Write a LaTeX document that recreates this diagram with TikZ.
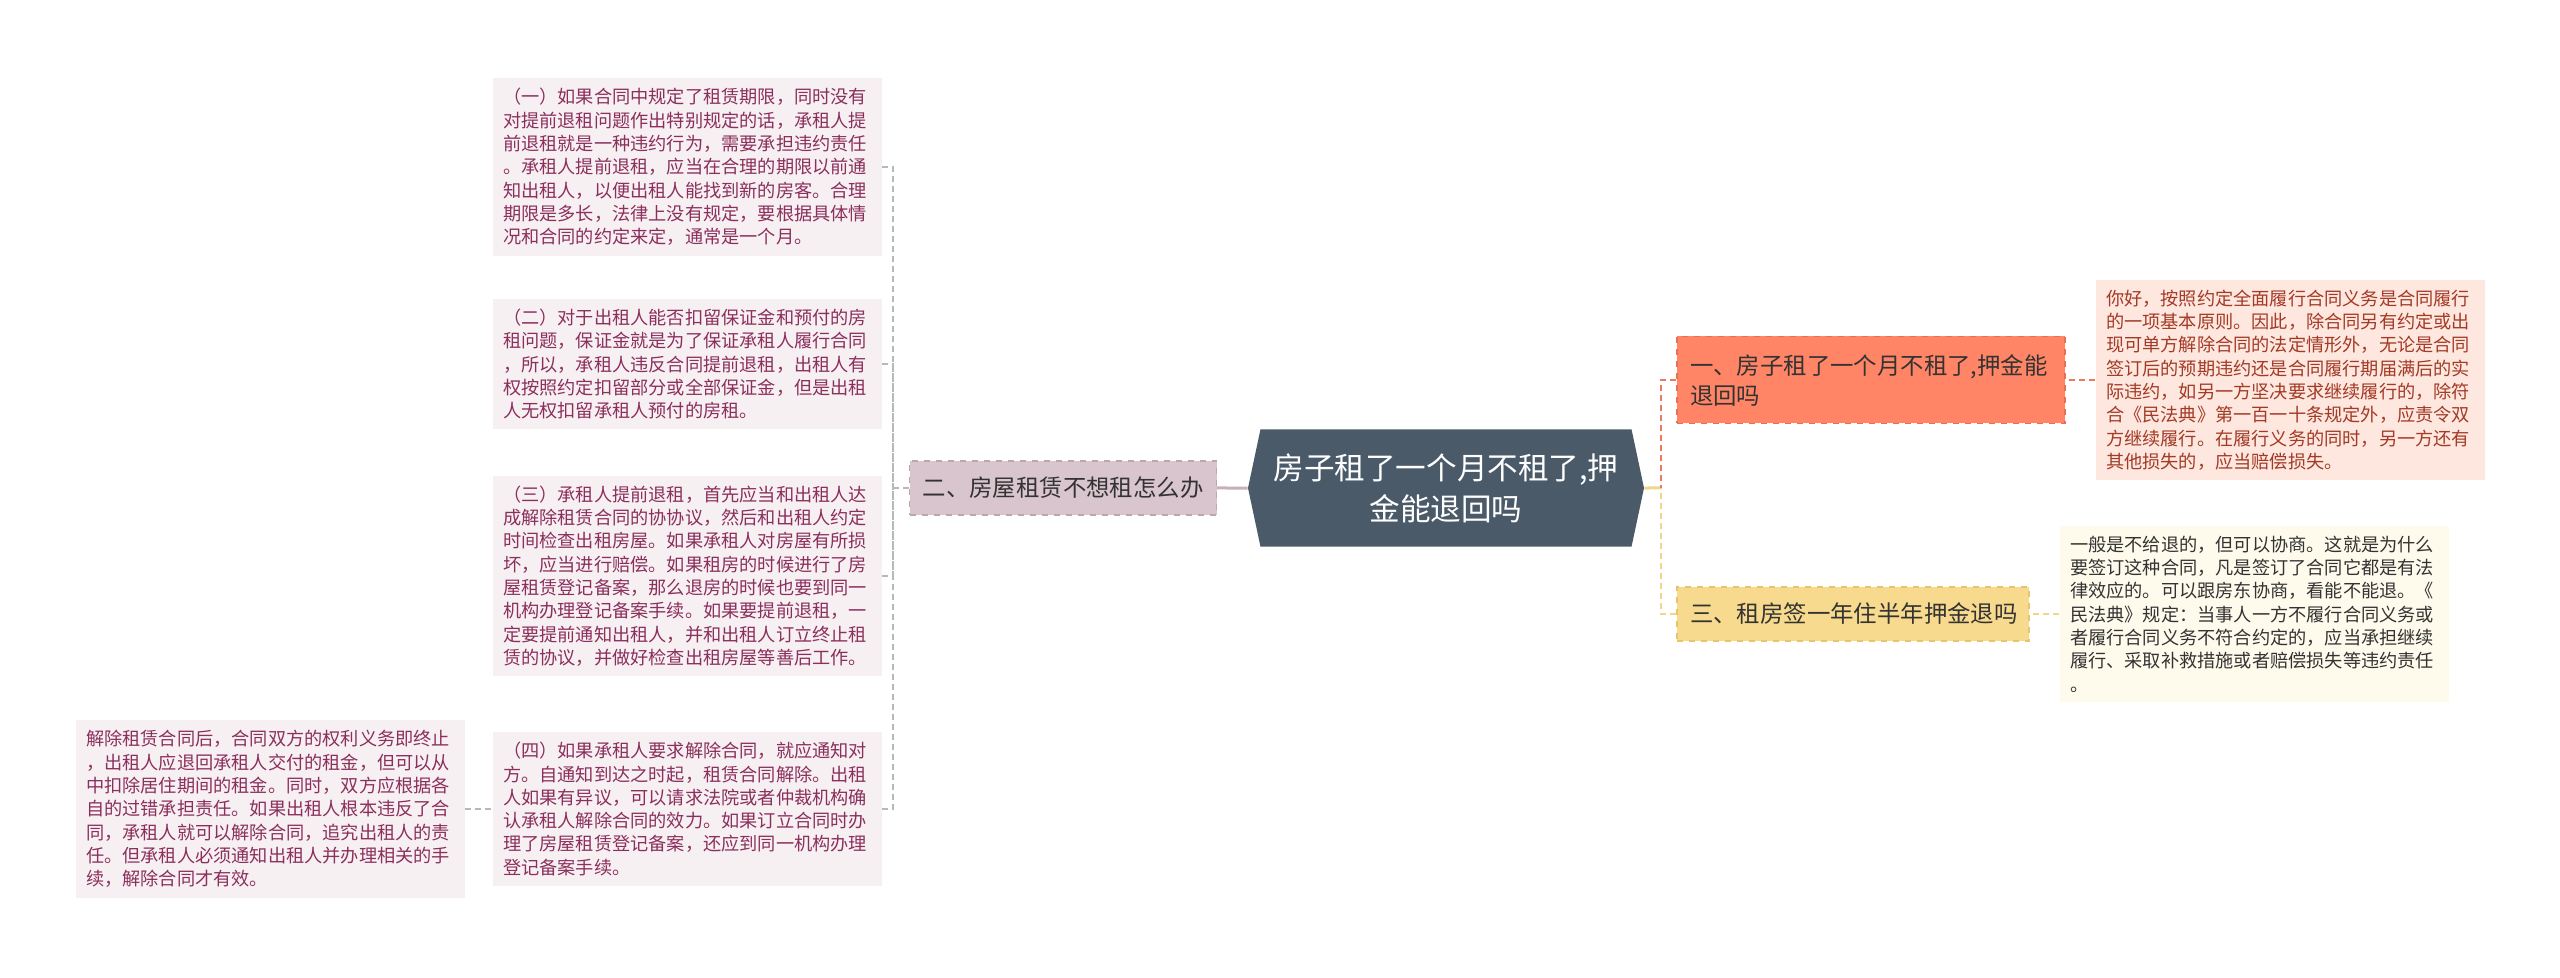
\documentclass[tikz,border=0pt]{standalone}
\usepackage{fontspec}
\setmainfont{Noto Sans CJK SC}
\usetikzlibrary{shapes.symbols}
\definecolor{ltfill}{HTML}{F7F0F3}
\definecolor{lttext}{HTML}{8B2F5C}
\definecolor{lbfill}{HTML}{D9C5CD}
\definecolor{lbdraw}{HTML}{BCA6B0}
\definecolor{rootfill}{HTML}{4B5A69}
\definecolor{obfill}{HTML}{FF8566}
\definecolor{obdraw}{HTML}{E86F52}
\definecolor{otfill}{HTML}{FDE7DF}
\definecolor{ottext}{HTML}{A33A26}
\definecolor{ybfill}{HTML}{F7DA8D}
\definecolor{ybdraw}{HTML}{E8C56A}
\definecolor{ytfill}{HTML}{FEFAEC}
\definecolor{dtext}{HTML}{333333}
\definecolor{lgrey}{HTML}{B8B8B8}
\definecolor{oline}{HTML}{EB7A5F}
\definecolor{yline}{HTML}{F0D68A}
\definecolor{pline}{HTML}{C8B0BA}

\begin{document}
\begin{tikzpicture}
	[x=0.5pt,y=-0.5pt,
	 txt/.style={text width=184pt,align=left,inner xsep=5.25pt,inner ysep=5pt,font=\fontsize{9.1pt}{11.65pt}\selectfont},
	 lt/.style={txt,fill=ltfill,text=lttext},
	 ot/.style={txt,fill=otfill,text=ottext},
	 yt/.style={txt,fill=ytfill,text=dtext},
	 br/.style={align=left,inner xsep=6.5pt,dashed,line width=0.6pt,text=dtext,font=\fontsize{11.7pt}{15pt}\selectfont},
	 root/.style={shape=signal,signal to=west and east,signal pointer angle=156,fill=rootfill,text=white,align=center,
	   minimum width=198pt,minimum height=58.5pt,inner sep=0pt,font=\fontsize{15.3pt}{20.4pt}\selectfont},
	 dl/.style={dash pattern=on 3pt off 2pt,line width=0.7pt},
	 gl/.style={dl,draw=lgrey},
	 ol/.style={dl,draw=oline,line width=0.9pt},
	 yl/.style={dl,draw=yline,line width=0.9pt},
	 elb/.style={to path={-| (\tikztotarget)}}]

	\useasboundingbox (0,0) rectangle (2560,978);

	\coordinate (jl) at (893,488);
	\coordinate (jr) at (1661,488);

	\node[root] (r) at (1446,488) {房子租了一个月不租了,押\\金能退回吗}
		edge [-,draw=yline,line width=1.5pt]	(jr)
	;

	\node[br,fill=lbfill,draw=lbdraw,minimum width=153.5pt,minimum height=27pt] (l) at (1063,488) {二、房屋租赁不想租怎么办}
		edge [-,draw=pline,line width=1.5pt]	(r)
		edge [gl]	(jl)
	;

	\node[lt] (b1) at (687,167) {（一）如果合同中规定了租赁期限，同时没有\\对提前退租问题作出特别规定的话，承租人提\\前退租就是一种违约行为，需要承担违约责任\\。承租人提前退租，应当在合理的期限以前通\\知出租人，以便出租人能找到新的房客。合理\\期限是多长，法律上没有规定，要根据具体情\\况和合同的约定来定，通常是一个月。}
		edge [gl,elb]	(jl)
	;

	\node[lt] (b2) at (687,364) {（二）对于出租人能否扣留保证金和预付的房\\租问题，保证金就是为了保证承租人履行合同\\，所以，承租人违反合同提前退租，出租人有\\权按照约定扣留部分或全部保证金，但是出租\\人无权扣留承租人预付的房租。}
		edge [gl,elb]	(jl)
	;

	\node[lt] (b3) at (687,576) {（三）承租人提前退租，首先应当和出租人达\\成解除租赁合同的协协议，然后和出租人约定\\时间检查出租房屋。如果承租人对房屋有所损\\坏，应当进行赔偿。如果租房的时候进行了房\\屋租赁登记备案，那么退房的时候也要到同一\\机构办理登记备案手续。如果要提前退租，一\\定要提前通知出租人，并和出租人订立终止租\\赁的协议，并做好检查出租房屋等善后工作。}
		edge [gl,elb]	(jl)
	;

	\node[lt] (b4) at (687,809) {（四）如果承租人要求解除合同，就应通知对\\方。自通知到达之时起，租赁合同解除。出租\\人如果有异议，可以请求法院或者仲裁机构确\\认承租人解除合同的效力。如果订立合同时办\\理了房屋租赁登记备案，还应到同一机构办理\\登记备案手续。}
		edge [gl,elb]	(jl)
	;

	\node[lt] (f) at (270,809) {解除租赁合同后，合同双方的权利义务即终止\\，出租人应退回承租人交付的租金，但可以从\\中扣除居住期间的租金。同时，双方应根据各\\自的过错承担责任。如果出租人根本违反了合\\同，承租人就可以解除合同，追究出租人的责\\任。但承租人必须通知出租人并办理相关的手\\续，解除合同才有效。}
		edge [gl]	(b4)
	;

	\node[br,fill=obfill,draw=obdraw,text width=181pt,minimum height=43.5pt] (o) at (1871,380) {一、房子租了一个月不租了,押金能\\退回吗}
		edge [ol,elb]	(jr)
	;

	\node[br,fill=ybfill,draw=ybdraw,text width=163pt,minimum height=27pt] (y) at (1853,614) {三、租房签一年住半年押金退吗}
		edge [yl,elb]	(jr)
	;

	\node[ot] (t1) at (2290,380) {你好，按照约定全面履行合同义务是合同履行\\的一项基本原则。因此，除合同另有约定或出\\现可单方解除合同的法定情形外，无论是合同\\签订后的预期违约还是合同履行期届满后的实\\际违约，如另一方坚决要求继续履行的，除符\\合《民法典》第一百一十条规定外，应责令双\\方继续履行。在履行义务的同时，另一方还有\\其他损失的，应当赔偿损失。}
		edge [ol]	(o)
	;

	\node[yt] (t2) at (2254,614) {一般是不给退的，但可以协商。这就是为什么\\要签订这种合同，凡是签订了合同它都是有法\\律效应的。可以跟房东协商，看能不能退。《\\民法典》规定：当事人一方不履行合同义务或\\者履行合同义务不符合约定的，应当承担继续\\履行、采取补救措施或者赔偿损失等违约责任\\。}
		edge [yl]	(y)
	;

\end{tikzpicture}
\end{document}
